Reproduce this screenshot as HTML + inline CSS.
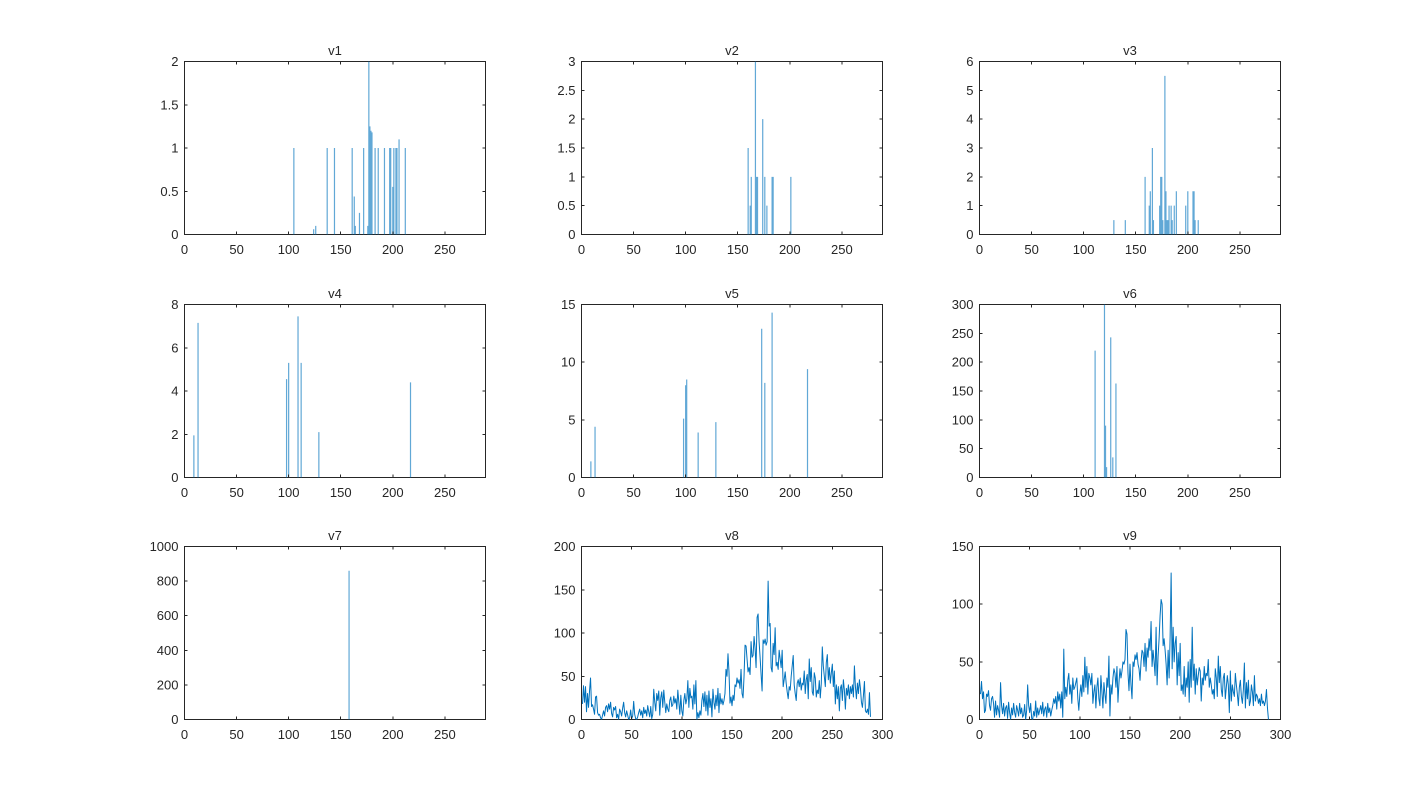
<!DOCTYPE html>
<html><head><meta charset="utf-8"><style>
html,body{margin:0;padding:0;background:#fff;}
svg{display:block;}
text{font-family:"Liberation Sans",Arial,sans-serif;font-size:13px;fill:#262626;}
.ax{fill:#fff;stroke:#262626;stroke-width:1;shape-rendering:crispEdges;}
.tk{stroke:#262626;stroke-width:1;fill:none;shape-rendering:crispEdges;}
.bar{stroke:#0072BD;stroke-opacity:0.62;stroke-width:1.2;fill:none;vector-effect:non-scaling-stroke;}
.ln{stroke:#0072BD;stroke-width:1;fill:none;vector-effect:non-scaling-stroke;stroke-linejoin:round;}
</style></head><body>
<svg width="1416" height="810" viewBox="0 0 1416 810" xmlns="http://www.w3.org/2000/svg">
<rect width="1416" height="810" fill="#fff"/>

<!-- ========== v1 ========== -->
<rect class="ax" x="184.5" y="61.5" width="301" height="173"/>
<svg x="184.5" y="61.5" width="301" height="173" viewBox="0 0 289 2" preserveAspectRatio="none">
<g transform="matrix(1 0 0 -1 0 2)"><path class="bar" d="M105 0V1M124 0V0.06M126 0V0.1M137 0V1M144 0V1M161 0V1M163 0V0.44M164 0V0.1M168 0V0.25M172 0V1M176 0V0.1M177 0V2M178 0V1.25M179 0V1.2M180 0V1.18M183 0V1M186 0V1M192 0V1M197 0V1M198 0V1M200 0V0.55M201 0V1M203 0V1M204 0V1M206 0V1.1M212 0V1"/></g></svg>
<path class="tk" d="M184.5 234.5v-3M184.5 61.5v3M236.58 234.5v-3M236.58 61.5v3M288.65 234.5v-3M288.65 61.5v3M340.73 234.5v-3M340.73 61.5v3M392.8 234.5v-3M392.8 61.5v3M444.88 234.5v-3M444.88 61.5v3M184.5 234.5h3M485.5 234.5h-3M184.5 191.25h3M485.5 191.25h-3M184.5 148h3M485.5 148h-3M184.5 104.75h3M485.5 104.75h-3M184.5 61.5h3M485.5 61.5h-3"/>
<text x="335" y="55" text-anchor="middle">v1</text>
<g text-anchor="middle"><text x="184.5" y="254">0</text><text x="236.58" y="254">50</text><text x="288.65" y="254">100</text><text x="340.73" y="254">150</text><text x="392.8" y="254">200</text><text x="444.88" y="254">250</text></g>
<g text-anchor="end"><text x="178.5" y="239">0</text><text x="178.5" y="195.75">0.5</text><text x="178.5" y="152.5">1</text><text x="178.5" y="109.25">1.5</text><text x="178.5" y="66">2</text></g>

<!-- ========== v2 ========== -->
<rect class="ax" x="581.5" y="61.5" width="301" height="173"/>
<svg x="581.5" y="61.5" width="301" height="173" viewBox="0 0 289 3" preserveAspectRatio="none">
<g transform="matrix(1 0 0 -1 0 3)"><path class="bar" d="M160 0V1.5M162 0V0.5M163 0V1M167 0V3M168 0V1M169 0V1M174 0V2M176 0V1M178 0V0.5M183 0V1M184 0V1M201 0V1"/></g></svg>
<path class="tk" d="M581.5 234.5v-3M581.5 61.5v3M633.58 234.5v-3M633.58 61.5v3M685.65 234.5v-3M685.65 61.5v3M737.73 234.5v-3M737.73 61.5v3M789.8 234.5v-3M789.8 61.5v3M841.88 234.5v-3M841.88 61.5v3M581.5 234.5h3M882.5 234.5h-3M581.5 205.67h3M882.5 205.67h-3M581.5 176.83h3M882.5 176.83h-3M581.5 148h3M882.5 148h-3M581.5 119.17h3M882.5 119.17h-3M581.5 90.33h3M882.5 90.33h-3M581.5 61.5h3M882.5 61.5h-3"/>
<text x="732" y="55" text-anchor="middle">v2</text>
<g text-anchor="middle"><text x="581.5" y="254">0</text><text x="633.58" y="254">50</text><text x="685.65" y="254">100</text><text x="737.73" y="254">150</text><text x="789.8" y="254">200</text><text x="841.88" y="254">250</text></g>
<g text-anchor="end"><text x="575.5" y="239">0</text><text x="575.5" y="210.17">0.5</text><text x="575.5" y="181.33">1</text><text x="575.5" y="152.5">1.5</text><text x="575.5" y="123.67">2</text><text x="575.5" y="94.83">2.5</text><text x="575.5" y="66">3</text></g>

<!-- ========== v3 ========== -->
<rect class="ax" x="979.5" y="61.5" width="301" height="173"/>
<svg x="979.5" y="61.5" width="301" height="173" viewBox="0 0 289 6" preserveAspectRatio="none">
<g transform="matrix(1 0 0 -1 0 6)"><path class="bar" d="M129 0V0.5M140 0V0.5M159 0V2M163 0V1M164 0V1.5M166 0V3M167 0V0.5M173 0V1M174 0V2M175 0V2M176 0V0.5M178 0V5.5M179 0V1.5M180 0V0.5M181 0V0.5M182 0V1M184 0V1M185 0V0.5M187 0V1M189 0V1.5M198 0V1M200 0V1.5M205 0V1.5M206 0V1.5M207 0V0.5M210 0V0.5"/></g></svg>
<path class="tk" d="M979.5 234.5v-3M979.5 61.5v3M1031.58 234.5v-3M1031.58 61.5v3M1083.65 234.5v-3M1083.65 61.5v3M1135.73 234.5v-3M1135.73 61.5v3M1187.8 234.5v-3M1187.8 61.5v3M1239.88 234.5v-3M1239.88 61.5v3M979.5 234.5h3M1280.5 234.5h-3M979.5 205.67h3M1280.5 205.67h-3M979.5 176.83h3M1280.5 176.83h-3M979.5 148h3M1280.5 148h-3M979.5 119.17h3M1280.5 119.17h-3M979.5 90.33h3M1280.5 90.33h-3M979.5 61.5h3M1280.5 61.5h-3"/>
<text x="1130" y="55" text-anchor="middle">v3</text>
<g text-anchor="middle"><text x="979.5" y="254">0</text><text x="1031.58" y="254">50</text><text x="1083.65" y="254">100</text><text x="1135.73" y="254">150</text><text x="1187.8" y="254">200</text><text x="1239.88" y="254">250</text></g>
<g text-anchor="end"><text x="973.5" y="239">0</text><text x="973.5" y="210.17">1</text><text x="973.5" y="181.33">2</text><text x="973.5" y="152.5">3</text><text x="973.5" y="123.67">4</text><text x="973.5" y="94.83">5</text><text x="973.5" y="66">6</text></g>

<!-- ========== v4 ========== -->
<rect class="ax" x="184.5" y="304.5" width="301" height="173"/>
<svg x="184.5" y="304.5" width="301" height="173" viewBox="0 0 289 8" preserveAspectRatio="none">
<g transform="matrix(1 0 0 -1 0 8)"><path class="bar" d="M9 0V1.95M13 0V7.15M98 0V4.55M100 0V5.3M109 0V7.45M112 0V5.3M129 0V2.1M217 0V4.4"/></g></svg>
<path class="tk" d="M184.5 477.5v-3M184.5 304.5v3M236.58 477.5v-3M236.58 304.5v3M288.65 477.5v-3M288.65 304.5v3M340.73 477.5v-3M340.73 304.5v3M392.8 477.5v-3M392.8 304.5v3M444.88 477.5v-3M444.88 304.5v3M184.5 477.5h3M485.5 477.5h-3M184.5 434.25h3M485.5 434.25h-3M184.5 391h3M485.5 391h-3M184.5 347.75h3M485.5 347.75h-3M184.5 304.5h3M485.5 304.5h-3"/>
<text x="335" y="298" text-anchor="middle">v4</text>
<g text-anchor="middle"><text x="184.5" y="497">0</text><text x="236.58" y="497">50</text><text x="288.65" y="497">100</text><text x="340.73" y="497">150</text><text x="392.8" y="497">200</text><text x="444.88" y="497">250</text></g>
<g text-anchor="end"><text x="178.5" y="482">0</text><text x="178.5" y="438.75">2</text><text x="178.5" y="395.5">4</text><text x="178.5" y="352.25">6</text><text x="178.5" y="309">8</text></g>

<!-- ========== v5 ========== -->
<rect class="ax" x="581.5" y="304.5" width="301" height="173"/>
<svg x="581.5" y="304.5" width="301" height="173" viewBox="0 0 289 15" preserveAspectRatio="none">
<g transform="matrix(1 0 0 -1 0 15)"><path class="bar" d="M9 0V1.4M13 0V4.4M98 0V5.1M100 0V8M101 0V8.5M112 0V3.9M129 0V4.8M173 0V12.9M176 0V8.2M183 0V14.3M217 0V9.4"/></g></svg>
<path class="tk" d="M581.5 477.5v-3M581.5 304.5v3M633.58 477.5v-3M633.58 304.5v3M685.65 477.5v-3M685.65 304.5v3M737.73 477.5v-3M737.73 304.5v3M789.8 477.5v-3M789.8 304.5v3M841.88 477.5v-3M841.88 304.5v3M581.5 477.5h3M882.5 477.5h-3M581.5 419.83h3M882.5 419.83h-3M581.5 362.17h3M882.5 362.17h-3M581.5 304.5h3M882.5 304.5h-3"/>
<text x="732" y="298" text-anchor="middle">v5</text>
<g text-anchor="middle"><text x="581.5" y="497">0</text><text x="633.58" y="497">50</text><text x="685.65" y="497">100</text><text x="737.73" y="497">150</text><text x="789.8" y="497">200</text><text x="841.88" y="497">250</text></g>
<g text-anchor="end"><text x="575.5" y="482">0</text><text x="575.5" y="424.33">5</text><text x="575.5" y="366.67">10</text><text x="575.5" y="309">15</text></g>

<!-- ========== v6 ========== -->
<rect class="ax" x="979.5" y="304.5" width="301" height="173"/>
<svg x="979.5" y="304.5" width="301" height="173" viewBox="0 0 289 300" preserveAspectRatio="none">
<g transform="matrix(1 0 0 -1 0 300)"><path class="bar" d="M111 0V220M120 0V300M121 0V90M122 0V18M126 0V243M128 0V35M131 0V163"/></g></svg>
<path class="tk" d="M979.5 477.5v-3M979.5 304.5v3M1031.58 477.5v-3M1031.58 304.5v3M1083.65 477.5v-3M1083.65 304.5v3M1135.73 477.5v-3M1135.73 304.5v3M1187.8 477.5v-3M1187.8 304.5v3M1239.88 477.5v-3M1239.88 304.5v3M979.5 477.5h3M1280.5 477.5h-3M979.5 448.67h3M1280.5 448.67h-3M979.5 419.83h3M1280.5 419.83h-3M979.5 391h3M1280.5 391h-3M979.5 362.17h3M1280.5 362.17h-3M979.5 333.33h3M1280.5 333.33h-3M979.5 304.5h3M1280.5 304.5h-3"/>
<text x="1130" y="298" text-anchor="middle">v6</text>
<g text-anchor="middle"><text x="979.5" y="497">0</text><text x="1031.58" y="497">50</text><text x="1083.65" y="497">100</text><text x="1135.73" y="497">150</text><text x="1187.8" y="497">200</text><text x="1239.88" y="497">250</text></g>
<g text-anchor="end"><text x="973.5" y="482">0</text><text x="973.5" y="453.17">50</text><text x="973.5" y="424.33">100</text><text x="973.5" y="395.5">150</text><text x="973.5" y="366.67">200</text><text x="973.5" y="337.83">250</text><text x="973.5" y="309">300</text></g>

<!-- ========== v7 ========== -->
<rect class="ax" x="184.5" y="546.5" width="301" height="173"/>
<svg x="184.5" y="546.5" width="301" height="173" viewBox="0 0 289 1000" preserveAspectRatio="none">
<g transform="matrix(1 0 0 -1 0 1000)"><path class="bar" d="M158 0V860"/></g></svg>
<path class="tk" d="M184.5 719.5v-3M184.5 546.5v3M236.58 719.5v-3M236.58 546.5v3M288.65 719.5v-3M288.65 546.5v3M340.73 719.5v-3M340.73 546.5v3M392.8 719.5v-3M392.8 546.5v3M444.88 719.5v-3M444.88 546.5v3M184.5 719.5h3M485.5 719.5h-3M184.5 684.9h3M485.5 684.9h-3M184.5 650.3h3M485.5 650.3h-3M184.5 615.7h3M485.5 615.7h-3M184.5 581.1h3M485.5 581.1h-3M184.5 546.5h3M485.5 546.5h-3"/>
<text x="335" y="540" text-anchor="middle">v7</text>
<g text-anchor="middle"><text x="184.5" y="739">0</text><text x="236.58" y="739">50</text><text x="288.65" y="739">100</text><text x="340.73" y="739">150</text><text x="392.8" y="739">200</text><text x="444.88" y="739">250</text></g>
<g text-anchor="end"><text x="178.5" y="724">0</text><text x="178.5" y="689.4">200</text><text x="178.5" y="654.8">400</text><text x="178.5" y="620.2">600</text><text x="178.5" y="585.6">800</text><text x="178.5" y="551">1000</text></g>

<!-- ========== v8 ========== -->
<rect class="ax" x="581.5" y="546.5" width="301" height="173"/>
<svg x="581.5" y="546.5" width="301" height="173" viewBox="0 0 300 200" preserveAspectRatio="none">
<g transform="matrix(1 0 0 -1 0 200)"><polyline class="ln" points="1,18 2,39 3,20 4,38 5,9 6,30 7,14 8,33 9,48 10,15 11,17 12,12 13,6 14,26 15,27 16,8 17,5 18,6 19,2 20,0 21,5 22,10 23,4 24,14 25,16 26,9 27,18 28,12 29,20 30,7 31,3 32,14 33,11 34,15 35,2 36,6 37,0 38,12 39,9 40,4 41,13 42,20 43,8 44,3 45,10 46,5 47,0 48,2 49,11 50,1 51,4 52,21 53,6 54,1 55,0 56,3 57,8 58,12 59,5 60,10 61,2 62,14 63,7 64,11 65,4 66,16 67,9 68,3 69,15 70,1 71,6 72,35 73,20 74,10 75,30 76,22 77,33 78,5 79,25 80,32 81,14 82,34 83,20 84,8 85,18 86,12 87,9 88,22 89,26 90,15 91,17 92,27 93,19 94,24 95,12 96,34 97,20 98,6 99,28 100,10 101,4 102,22 103,30 104,18 105,24 106,45 107,14 108,36 109,25 110,27 111,12 112,40 113,18 114,45 115,0 116,8 117,2 118,10 119,5 120,22 121,30 122,15 123,32 124,10 125,28 126,5 127,33 128,14 129,24 130,3 131,35 132,20 133,12 134,28 135,16 136,36 137,8 138,30 139,18 140,24 141,17 142,22 143,30 144,58 145,50 146,76 147,55 148,19 149,26 150,16 151,28 152,22 153,40 154,38 155,48 156,42 157,46 158,36 159,58 160,30 161,25 162,50 163,86 164,85 165,70 166,55 167,60 168,52 169,90 170,72 171,74 172,96 173,82 174,60 175,118 176,122 177,90 178,72 179,52 180,33 181,92 182,88 183,93 184,86 185,90 186,160 187,108 188,111 189,60 190,55 191,88 192,75 193,106 194,62 195,66 196,58 197,80 198,70 199,60 200,80 201,38 202,46 203,55 204,42 205,32 206,24 207,38 208,34 209,50 210,62 211,74 212,40 213,30 214,22 215,42 216,46 217,38 218,48 219,34 220,42 221,40 222,56 223,30 224,46 225,52 226,24 227,70 228,44 229,60 230,32 231,28 232,54 233,48 234,26 235,34 236,30 237,45 238,25 239,42 240,84 241,62 242,50 243,38 244,66 245,75 246,46 247,60 248,42 249,54 250,64 251,38 252,56 253,18 254,40 255,24 256,38 257,10 258,36 259,40 260,22 261,46 262,34 263,12 264,36 265,28 266,40 267,24 268,38 269,30 270,40 271,26 272,62 273,38 274,24 275,42 276,30 277,46 278,36 279,20 280,14 281,28 282,44 283,10 284,8 285,12 286,6 287,31 288,3"/></g></svg>
<path class="tk" d="M581.5 719.5v-3M581.5 546.5v3M631.67 719.5v-3M631.67 546.5v3M681.83 719.5v-3M681.83 546.5v3M732 719.5v-3M732 546.5v3M782.17 719.5v-3M782.17 546.5v3M832.33 719.5v-3M832.33 546.5v3M882.5 719.5v-3M882.5 546.5v3M581.5 719.5h3M882.5 719.5h-3M581.5 676.25h3M882.5 676.25h-3M581.5 633h3M882.5 633h-3M581.5 589.75h3M882.5 589.75h-3M581.5 546.5h3M882.5 546.5h-3"/>
<text x="732" y="540" text-anchor="middle">v8</text>
<g text-anchor="middle"><text x="581.5" y="739">0</text><text x="631.67" y="739">50</text><text x="681.83" y="739">100</text><text x="732" y="739">150</text><text x="782.17" y="739">200</text><text x="832.33" y="739">250</text><text x="882.5" y="739">300</text></g>
<g text-anchor="end"><text x="575.5" y="724">0</text><text x="575.5" y="680.75">50</text><text x="575.5" y="637.5">100</text><text x="575.5" y="594.25">150</text><text x="575.5" y="551">200</text></g>

<!-- ========== v9 ========== -->
<rect class="ax" x="979.5" y="546.5" width="301" height="173"/>
<svg x="979.5" y="546.5" width="301" height="173" viewBox="0 0 300 150" preserveAspectRatio="none">
<g transform="matrix(1 0 0 -1 0 150)"><polyline class="ln" points="1,22 2,33 3,18 4,24 5,6 6,8 7,22 8,20 9,25 10,12 11,8 12,18 13,20 14,14 15,2 16,16 17,4 18,12 19,8 20,2 21,32 22,12 23,5 24,14 25,3 26,10 27,12 28,1 29,15 30,6 31,0 32,10 33,4 34,14 35,6 36,2 37,12 38,8 39,3 40,14 41,5 42,10 43,2 44,4 45,13 46,0 47,8 48,30 49,12 50,6 51,14 52,1 53,0 54,7 55,3 56,16 57,2 58,10 59,4 60,8 61,12 62,5 63,15 64,3 65,9 66,11 67,2 68,14 69,6 70,10 71,3 72,8 73,12 74,18 75,14 76,20 77,9 78,24 79,16 80,22 81,10 82,24 83,2 84,61 85,18 86,28 87,20 88,34 89,40 90,22 91,30 92,14 93,36 94,26 95,28 96,32 97,36 98,18 99,8 100,22 101,30 102,20 103,38 104,24 105,54 106,28 107,46 108,22 109,40 110,36 111,30 112,40 113,14 114,24 115,30 116,10 117,28 118,36 119,18 120,12 121,38 122,24 123,10 124,32 125,22 126,14 127,36 128,28 129,55 130,3 131,30 132,22 133,36 134,44 135,40 136,28 137,46 138,15 139,32 140,44 141,36 142,42 143,50 144,48 145,52 146,78 147,74 148,40 149,25 150,48 151,30 152,18 153,50 154,46 155,56 156,52 157,58 158,48 159,44 160,34 161,50 162,60 163,58 164,46 165,66 166,42 167,62 168,54 169,70 170,60 171,85 172,46 173,60 174,50 175,38 176,80 177,30 178,55 179,70 180,90 181,104 182,100 183,64 184,70 185,60 186,48 187,30 188,60 189,36 190,72 191,127 192,44 193,80 194,50 195,66 196,72 197,30 198,58 199,38 200,66 201,25 202,30 203,22 204,46 205,20 206,36 207,28 208,50 209,15 210,52 211,28 212,80 213,34 214,48 215,22 216,44 217,30 218,38 219,45 220,42 221,16 222,36 223,30 224,46 225,34 226,40 227,38 228,52 229,28 230,36 231,30 232,22 233,26 234,18 235,44 236,36 237,20 238,55 239,32 240,46 241,26 242,20 243,36 244,40 245,18 246,28 247,38 248,30 249,6 250,42 251,16 252,30 253,24 254,20 255,40 256,30 257,22 258,12 259,28 260,34 261,20 262,14 263,26 264,49 265,10 266,32 267,18 268,34 269,12 270,16 271,30 272,24 273,12 274,38 275,16 276,22 277,20 278,14 279,18 280,12 281,22 282,14 283,16 284,12 285,16 286,26 287,10 288,0"/></g></svg>
<path class="tk" d="M979.5 719.5v-3M979.5 546.5v3M1029.67 719.5v-3M1029.67 546.5v3M1079.83 719.5v-3M1079.83 546.5v3M1130 719.5v-3M1130 546.5v3M1180.17 719.5v-3M1180.17 546.5v3M1230.33 719.5v-3M1230.33 546.5v3M1280.5 719.5v-3M1280.5 546.5v3M979.5 719.5h3M1280.5 719.5h-3M979.5 661.83h3M1280.5 661.83h-3M979.5 604.17h3M1280.5 604.17h-3M979.5 546.5h3M1280.5 546.5h-3"/>
<text x="1130" y="540" text-anchor="middle">v9</text>
<g text-anchor="middle"><text x="979.5" y="739">0</text><text x="1029.67" y="739">50</text><text x="1079.83" y="739">100</text><text x="1130" y="739">150</text><text x="1180.17" y="739">200</text><text x="1230.33" y="739">250</text><text x="1280.5" y="739">300</text></g>
<g text-anchor="end"><text x="973.5" y="724">0</text><text x="973.5" y="666.33">50</text><text x="973.5" y="608.67">100</text><text x="973.5" y="551">150</text></g>

</svg>
</body></html>
